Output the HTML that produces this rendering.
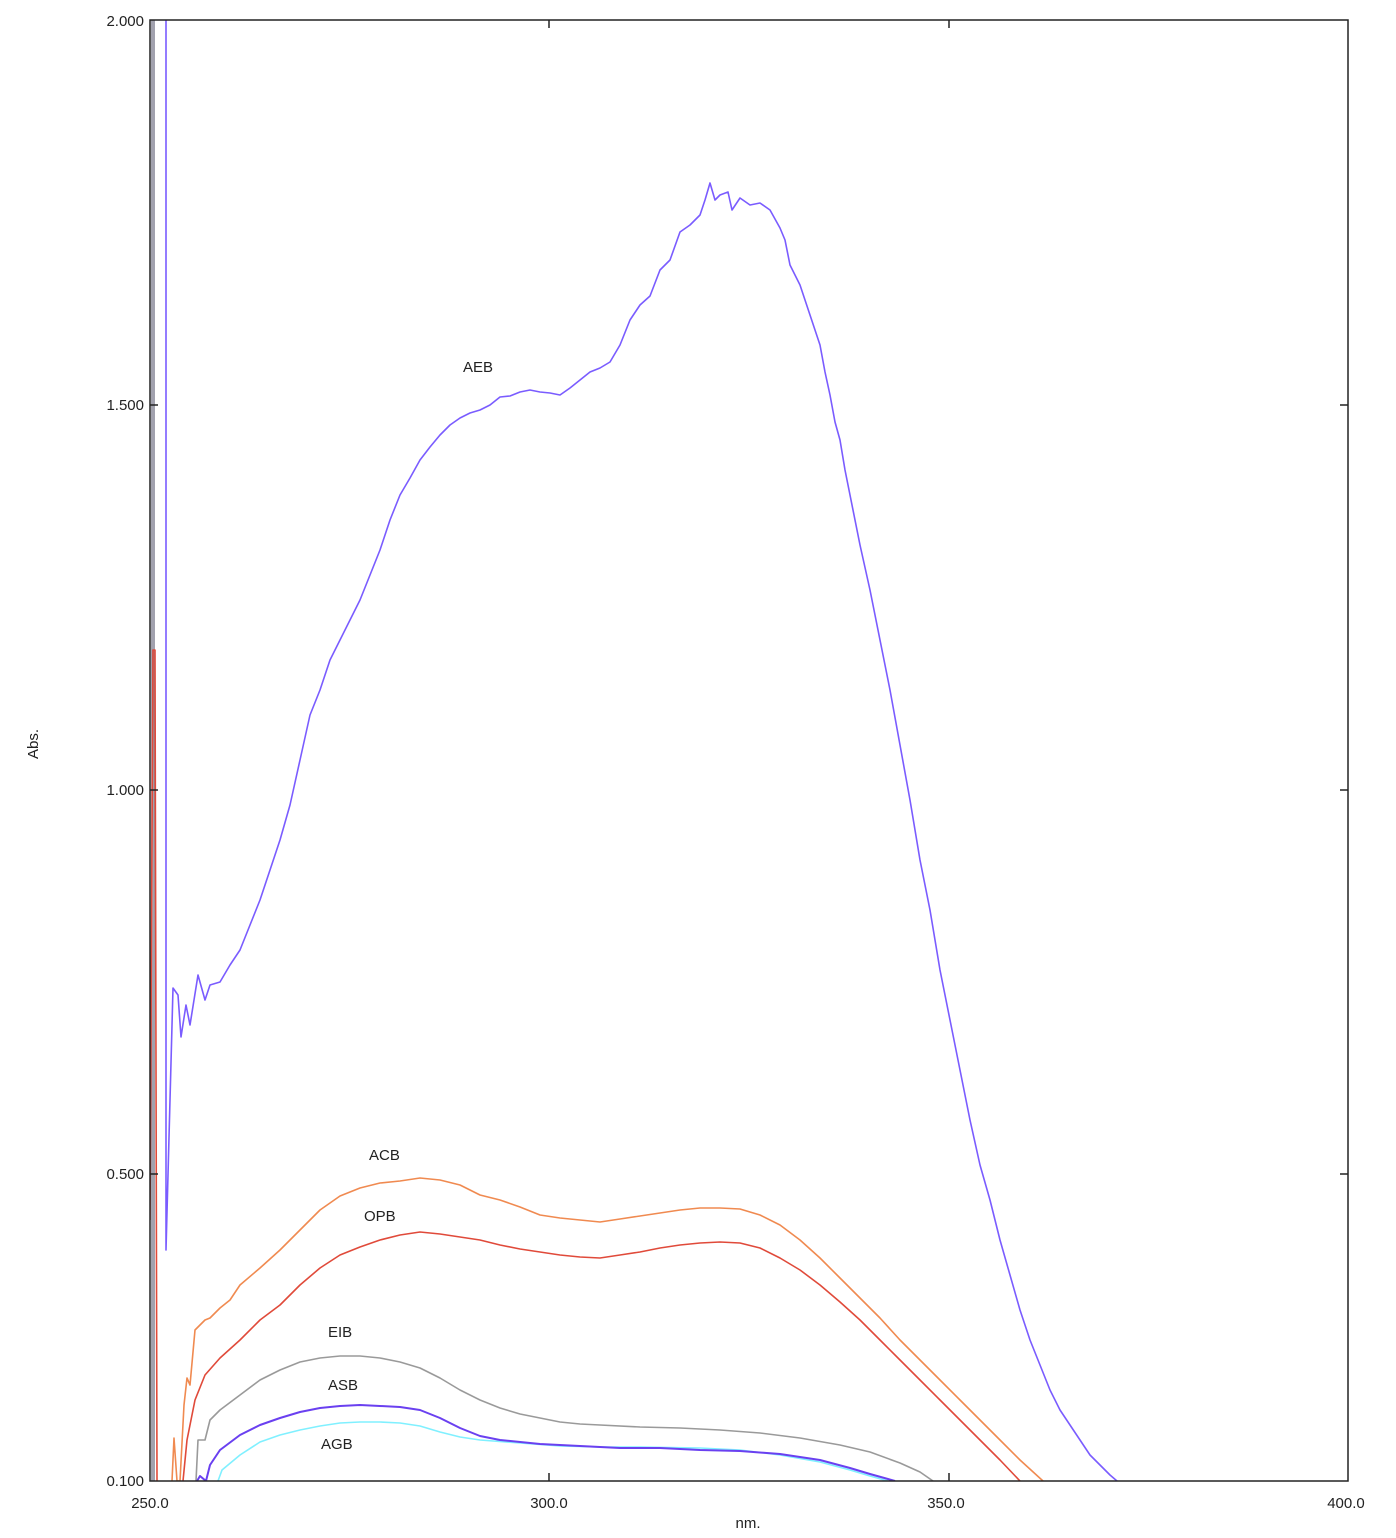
<!DOCTYPE html><html><head><style>body{margin:0;background:#fff}svg{display:block}text{font-family:"Liberation Sans",sans-serif;font-size:15px;fill:#222}</style></head><body>
<svg width="1396" height="1538" viewBox="0 0 1396 1538">
<defs><clipPath id="c"><rect x="150" y="20" width="1198" height="1461"/></clipPath></defs>
<g clip-path="url(#c)" fill="none" stroke-width="1.6" stroke-linejoin="round">
<polyline stroke="#8a8a9a" points="152,1481 152,20 154,20 154,1481"/>
<polyline stroke="#e04a3a" points="150,1220 153,650 155,650 157,1481"/>
<polyline stroke="#7a5cff" points="166,20 166,1250 170,1100 173,988 178,995 181,1037 186,1005 190,1025 198,975 205,1000 210,985 220,982 230,965 240,950 250,925 260,900 270,870 280,840 290,805 300,760 310,715 320,690 330,660 340,640 350,620 360,600 370,575 380,550 390,520 400,495 410,478 420,460 430,447 440,435 450,425 460,418 470,413 480,410 490,405 500,397 510,396 520,392 530,390 540,392 550,393 560,395 570,388 580,380 590,372 600,368 610,362 620,345 630,320 640,305 650,296 660,270 670,260 680,232 690,225 700,215 705,200 710,183 715,200 720,195 728,192 732,210 740,198 750,205 760,203 770,210 780,228 785,240 790,265 800,285 810,315 820,345 825,372 830,395 835,422 840,440 845,470 850,495 860,545 870,590 880,640 890,690 900,745 910,800 920,860 930,910 940,970 950,1020 960,1070 970,1120 980,1165 990,1200 1000,1240 1010,1275 1020,1310 1030,1340 1040,1365 1050,1390 1060,1410 1070,1425 1080,1440 1090,1455 1100,1465 1110,1475 1117,1481"/>
<polyline stroke="#f08a50" points="172,1481 174,1438 177,1481 180,1481 184,1405 187,1378 190,1385 195,1330 200,1325 205,1320 210,1318 220,1308 230,1300 240,1285 260,1268 280,1250 300,1230 320,1210 340,1196 360,1188 380,1183 400,1181 420,1178 440,1180 460,1185 480,1195 500,1200 520,1207 540,1215 560,1218 580,1220 600,1222 620,1219 640,1216 660,1213 680,1210 700,1208 720,1208 740,1209 760,1215 780,1225 800,1240 820,1258 840,1278 860,1298 880,1318 900,1340 920,1360 940,1380 960,1400 980,1420 1000,1440 1020,1460 1043,1481"/>
<polyline stroke="#e04a3a" points="183,1481 187,1440 195,1400 205,1375 220,1358 240,1340 260,1320 280,1305 300,1285 320,1268 340,1255 360,1247 380,1240 400,1235 420,1232 440,1234 460,1237 480,1240 500,1245 520,1249 540,1252 560,1255 580,1257 600,1258 620,1255 640,1252 660,1248 680,1245 700,1243 720,1242 740,1243 760,1248 780,1258 800,1270 820,1285 840,1302 860,1320 880,1340 900,1360 920,1380 940,1400 960,1420 980,1440 1000,1460 1020,1481"/>
<polyline stroke="#9a9a9a" points="196,1481 198,1440 205,1440 210,1420 220,1410 240,1395 260,1380 280,1370 300,1362 320,1358 340,1356 360,1356 380,1358 400,1362 420,1368 440,1378 460,1390 480,1400 500,1408 520,1414 540,1418 560,1422 580,1424 600,1425 640,1427 680,1428 720,1430 760,1433 800,1438 840,1445 870,1452 900,1463 920,1472 933,1481"/>
<polyline stroke="#80f0ff" points="218,1481 222,1470 240,1455 260,1442 280,1435 300,1430 320,1426 340,1423 360,1422 380,1422 400,1423 420,1426 440,1432 460,1437 480,1440 520,1443 560,1446 600,1447 640,1447 700,1448 740,1450 780,1455 820,1462 850,1470 870,1476 888,1481"/>
<polyline stroke="#6a40f0" stroke-width="2" points="197,1481 200,1476 206,1481 210,1465 220,1450 240,1435 260,1425 280,1418 300,1412 320,1408 340,1406 360,1405 380,1406 400,1407 420,1410 440,1418 460,1428 480,1436 500,1440 540,1444 580,1446 620,1448 660,1448 700,1450 740,1451 780,1454 820,1460 850,1468 870,1474 895,1481"/>
</g>
<rect x="150" y="20" width="1198" height="1461" fill="none" stroke="#222" stroke-width="1.5"/>
<g stroke="#222" stroke-width="1.5">
<line x1="549" y1="20" x2="549" y2="28"/><line x1="949" y1="20" x2="949" y2="28"/>
<line x1="549" y1="1481" x2="549" y2="1473"/><line x1="949" y1="1481" x2="949" y2="1473"/>
<line x1="1348" y1="405" x2="1340" y2="405"/><line x1="1348" y1="790" x2="1340" y2="790"/><line x1="1348" y1="1174" x2="1340" y2="1174"/>
<line x1="150" y1="405" x2="158" y2="405"/><line x1="150" y1="790" x2="158" y2="790"/><line x1="150" y1="1174" x2="158" y2="1174"/>
</g>
<g text-anchor="end"><text x="144" y="26">2.000</text><text x="144" y="410">1.500</text><text x="144" y="795">1.000</text><text x="144" y="1179">0.500</text><text x="144" y="1486">0.100</text></g>
<g text-anchor="middle"><text x="150" y="1508">250.0</text><text x="549" y="1508">300.0</text><text x="946" y="1508">350.0</text><text x="1346" y="1508">400.0</text><text x="748" y="1528">nm.</text></g>
<text transform="translate(38,744) rotate(-90)" text-anchor="middle">Abs.</text>
<text x="463" y="372">AEB</text><text x="369" y="1160">ACB</text><text x="364" y="1221">OPB</text><text x="328" y="1337">EIB</text><text x="328" y="1390">ASB</text><text x="321" y="1449">AGB</text>
</svg></body></html>
